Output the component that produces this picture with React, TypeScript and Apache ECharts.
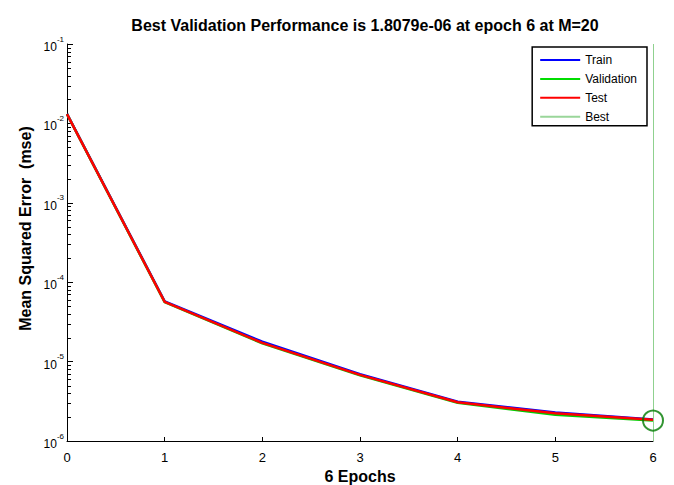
import React, { useEffect, useRef } from "react";
import * as echarts from "echarts";

const epochs = [0, 1, 2, 3, 4, 5, 6];
const trainMse = [0.0132, 5.75e-5, 1.78e-5, 6.95e-6, 3.12e-6, 2.28e-6, 1.87e-6];
const validationMse = [0.0131, 5.6e-5, 1.7e-5, 6.7e-6, 3.03e-6, 2.14e-6, 1.8079e-6];
const testMse = [0.0131, 5.65e-5, 1.72e-5, 6.8e-6, 3.07e-6, 2.24e-6, 1.85e-6];
const bestEpoch = 6;
const bestPerf = 1.8079e-6;
const yExponents = [-6, -5, -4, -3, -2, -1];
const minorFactors = [2, 3, 4, 5, 6, 7, 8, 9];

const FONT = "'Liberation Sans', Arial, sans-serif";

export default function App() {
  const ref = useRef<HTMLDivElement>(null);

  useEffect(() => {
    if (!ref.current) return;
    const chart = echarts.init(ref.current, null, { renderer: "svg" });

    const pairs = (vals: number[]) => epochs.map((x, i) => [x, vals[i]]);
    const titleValue = bestPerf.toExponential(4).replace(/e-(\d)$/, "e-0$1");

    chart.setOption({
      animation: false,
      backgroundColor: "#fff",
      title: {
        text: `Best Validation Performance is ${titleValue} at epoch ${bestEpoch} at M=20`,
        left: 360,
        textAlign: "center",
        top: 12,
        textStyle: { fontFamily: FONT, fontSize: 16, fontWeight: "bold", color: "#000" },
      },
      grid: { left: 67, right: 21, top: 44, bottom: 44, outerBoundsMode: "none", containLabel: false },
      legend: {
        data: ["Train", "Validation", "Test", "Best"],
        orient: "vertical",
        right: 27,
        top: 47,
        icon: "rect",
        itemWidth: 40,
        itemHeight: 2,
        itemGap: 6.9,
        padding: [7, 10, 3, 8],
        borderColor: "#000",
        borderWidth: 1.5,
        borderRadius: 0,
        backgroundColor: "#fff",
        textStyle: { fontFamily: FONT, fontSize: 12, color: "#000" },
      },
      xAxis: {
        type: "value",
        min: 0,
        max: 6,
        interval: 1,
        name: "6 Epochs",
        nameLocation: "middle",
        nameGap: 27,
        nameTextStyle: { fontFamily: FONT, fontSize: 16, fontWeight: "bold", color: "#000", verticalAlign: "top" },
        axisLine: { show: true, lineStyle: { color: "#000", width: 1 } },
        axisTick: { show: true, inside: true, length: 4, lineStyle: { color: "#000", width: 1 } },
        axisLabel: { fontFamily: FONT, fontSize: 13, color: "#000", margin: 10 },
        splitLine: { show: false },
      },
      yAxis: {
        type: "log",
        logBase: 10,
        min: 1e-6,
        max: 0.1,
        axisLine: { show: true, lineStyle: { color: "#000", width: 1 } },
        axisTick: { show: true, inside: true, length: 6, lineStyle: { color: "#000", width: 1 } },
        axisLabel: {
          margin: 3,
          formatter: (v: number) => `{b|10}{s|${Math.round(Math.log10(v))}}`,
          rich: {
            b: { fontFamily: FONT, fontSize: 12, color: "#000", lineHeight: 18, verticalAlign: "bottom" },
            s: { fontFamily: FONT, fontSize: 8, color: "#000", lineHeight: 18, verticalAlign: "top" },
          },
        },
        splitLine: { show: false },
      },
      series: [
        {
          name: "Train",
          type: "line",
          data: pairs(trainMse),
          symbol: "none",
          lineStyle: { color: "#0000ff", width: 2.5 },
          itemStyle: { color: "#0000ff" },
          z: 3,
        },
        {
          name: "Validation",
          type: "line",
          data: pairs(validationMse),
          symbol: "none",
          lineStyle: { color: "#00cc00", width: 2.5 },
          itemStyle: { color: "#00dd00" },
          z: 4,
        },
        {
          name: "Test",
          type: "line",
          data: pairs(testMse),
          symbol: "none",
          lineStyle: { color: "#ff0000", width: 2.5 },
          itemStyle: { color: "#ff0000" },
          z: 5,
        },
        {
          name: "Best",
          type: "line",
          data: [],
          symbol: "none",
          lineStyle: { color: "#8fd18f", width: 1 },
          itemStyle: { color: "#9ad69a" },
          z: 2,
          markLine: {
            silent: true,
            symbol: "none",
            label: { show: false },
            lineStyle: { color: "#8fd18f", width: 1, type: "solid" },
            data: [{ xAxis: bestEpoch }, { yAxis: bestPerf }],
          },
        },
        {
          name: "BestPoint",
          type: "scatter",
          data: [[bestEpoch, bestPerf]],
          symbol: "circle",
          symbolSize: 20,
          itemStyle: { color: "rgba(0,0,0,0)", borderColor: "#007a00", borderWidth: 2 },
          z: 6,
          silent: true,
        },
      ],
    });

    // Minor ticks of the log axis (2..9 x 10^n), placed through the axis scale
    const finder = { xAxisIndex: 0, yAxisIndex: 0 };
    const minorTicks: any[] = [];
    yExponents.slice(0, -1).forEach((e) => {
      minorFactors.forEach((k) => {
        const p = chart.convertToPixel(finder, [0, k * Math.pow(10, e)]) as number[];
        const y = Math.round(p[1]);
        minorTicks.push({
          type: "rect",
          silent: true,
          z: 10,
          shape: { x: p[0], y, width: 4, height: 1 },
          style: { fill: "#000" },
        });
      });
    });
    const plotTop = (chart.convertToPixel(finder, [0, 0.1]) as number[])[1];
    const plotBottom = (chart.convertToPixel(finder, [0, 1e-6]) as number[])[1];

    chart.setOption({
      graphic: [
        ...minorTicks,
        {
          type: "text",
          x: 25,
          y: (plotTop + plotBottom) / 2 - 14,
          rotation: Math.PI / 2,
          silent: true,
          style: {
            text: "Mean Squared Error  (mse)",
            font: `bold 16px ${FONT}`,
            fill: "#000",
            align: "center",
            verticalAlign: "middle",
          },
        },
      ],
    });

    return () => chart.dispose();
  }, []);

  return <div ref={ref} style={{ width: 674, height: 485, marginLeft: -8, marginTop: -8 }} />;
}
